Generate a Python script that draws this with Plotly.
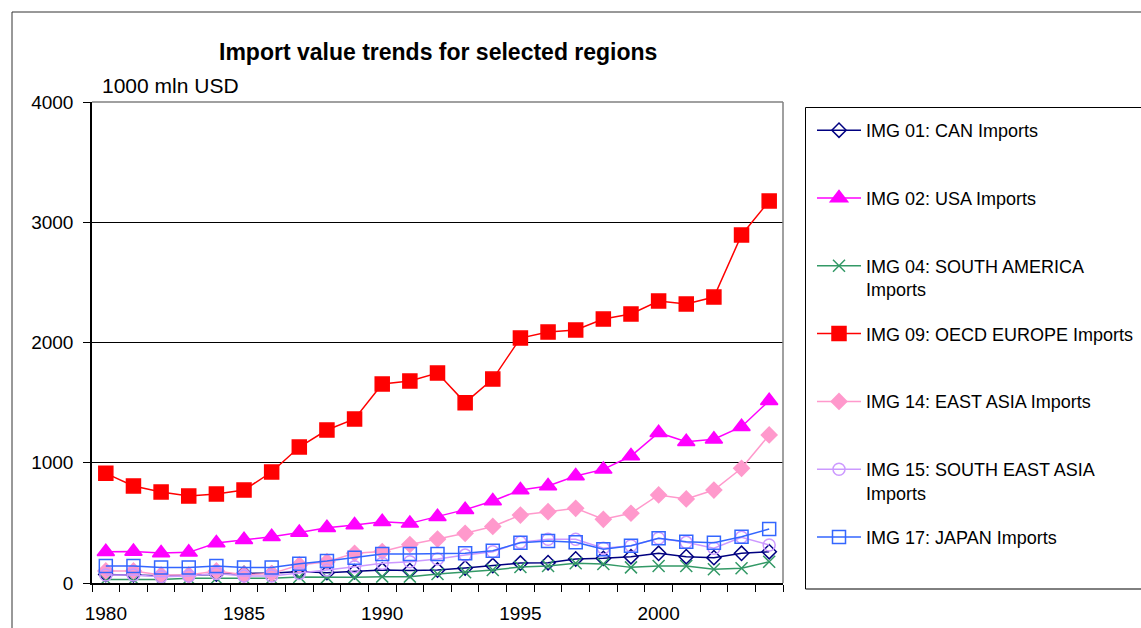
import plotly.graph_objects as go

years = list(range(1980, 2005))

can = [70, 68, 60, 65, 75, 80, 82, 95, 86, 94, 108, 103, 108, 125, 145, 166, 169, 200, 205, 219, 247, 219, 211, 247, 260]
usa = [260, 262, 250, 255, 332, 360, 385, 420, 460, 482, 510, 496, 551, 610, 682, 773, 807, 890, 945, 1056, 1250, 1175, 1195, 1300, 1516]
south_america = [30, 30, 30, 39, 39, 39, 39, 50, 47, 47, 53, 53, 75, 90, 108, 133, 141, 164, 158, 130, 141, 141, 114, 122, 177]
oecd_europe = [912, 807, 757, 723, 740, 773, 923, 1131, 1272, 1364, 1655, 1680, 1746, 1500, 1696, 2037, 2087, 2104, 2195, 2237, 2345, 2320, 2378, 2894, 3177]
east_asia = [100, 100, 67, 67, 100, 69, 78, 150, 177, 247, 262, 320, 365, 413, 470, 565, 593, 621, 530, 580, 732, 699, 773, 954, 1231]
se_asia = [67, 67, 53, 58, 80, 58, 58, 80, 108, 136, 164, 177, 200, 232, 260, 338, 363, 363, 290, 310, 372, 338, 289, 380, 316]
japan = [141, 141, 128, 128, 141, 128, 128, 160, 183, 211, 241, 241, 241, 247, 269, 335, 349, 338, 280, 310, 372, 344, 335, 385, 449]

series = [
    ("IMG 01: CAN Imports<br> ", can, "#000080", "diamond-open", 11),
    ("IMG 02: USA Imports<br> ", usa, "#FF00FF", "triangle-up", 15),
    ("IMG 04: SOUTH AMERICA<br>Imports", south_america, "#339966", "x-thin-open", 12),
    ("IMG 09: OECD EUROPE Imports<br> ", oecd_europe, "#FF0000", "square", 14),
    ("IMG 14: EAST ASIA Imports<br> ", east_asia, "#FF99CC", "diamond", 12),
    ("IMG 15: SOUTH EAST ASIA<br>Imports", se_asia, "#CC99FF", "circle-open", 12),
    ("IMG 17: JAPAN Imports<br> ", japan, "#3366FF", "square-open", 13),
]

FONT = "Liberation Sans, Arial, sans-serif"

fig = go.Figure()
for i, (name, vals, color, sym, size) in enumerate(series):
    fig.add_trace(go.Scatter(
        x=years, y=vals, name=name, mode="lines+markers",
        legendgroup=f"g{i}",
        line=dict(color=color, width=1.5),
        marker=dict(symbol=sym, size=size, color=color,
                    line=dict(color=color, width=1.5)),
    ))

L, R, T, B = 92, 358, 102, 45
W, H = 1141, 628
pw, ph = W - L - R, H - T - B


def px(x):
    return (x - L) / pw


def py(y):
    return (H - B - y) / ph


shapes = [
    # outer chart border
    dict(type="rect", xref="paper", yref="paper", x0=px(12), x1=px(1200), y0=py(12), y1=py(700),
         line=dict(color="#333333", width=1), layer="below"),
    # legend box
    dict(type="rect", xref="paper", yref="paper", x0=px(805.5), x1=px(1200), y0=py(107.5), y1=py(589),
         line=dict(color="#000000", width=1), fillcolor="white", layer="below"),
    # plot area top / right border (gray)
    dict(type="line", xref="paper", yref="paper", x0=0, x1=1, y0=1, y1=1,
         line=dict(color="#808080", width=1.5)),
    dict(type="line", xref="paper", yref="paper", x0=1, x1=1, y0=0, y1=1,
         line=dict(color="#808080", width=1.5)),
]

annotations = [
    dict(text="<b>Import value trends for selected regions</b>", xref="paper", yref="paper",
         x=px(438), y=py(52), xanchor="center", yanchor="middle", showarrow=False,
         font=dict(family=FONT, size=23, color="black")),
    dict(text="1000 mln USD", xref="paper", yref="paper",
         x=px(100), y=py(85), xanchor="left", yanchor="middle", showarrow=False,
         font=dict(family=FONT, size=21, color="black")),
]

fig.update_layout(
    width=W, height=H,
    margin=dict(l=L, r=R, t=T, b=B, autoexpand=False),
    paper_bgcolor="white", plot_bgcolor="white",
    font=dict(family=FONT, color="black"),
    showlegend=True,
    legend=dict(
        x=px(812), y=py(112), xanchor="left", yanchor="top",
        font=dict(family=FONT, size=18, color="black"),
        bgcolor="rgba(0,0,0,0)", borderwidth=0, itemwidth=44,
        tracegroupgap=18, valign="top", itemclick=False, itemdoubleclick=False,
    ),
    shapes=shapes,
    annotations=annotations,
    xaxis=dict(
        range=[1979.5, 2004.5], tickvals=[1980, 1985, 1990, 1995, 2000],
        ticks="", showgrid=False, zeroline=False,
        showline=True, linecolor="black", linewidth=1.5,
        tickfont=dict(family=FONT, size=19, color="black"),
        ticklabelstandoff=12,
        minor=dict(ticks="outside", ticklen=7, tickcolor="black", tickwidth=1,
                   tick0=1979.5, dtick=1, showgrid=False),
    ),
    yaxis=dict(
        range=[0, 4000], dtick=1000, tickformat="d",
        ticks="outside", ticklen=7, tickcolor="black", tickwidth=1,
        showgrid=True, gridcolor="black", gridwidth=1, zeroline=False,
        showline=True, linecolor="black", linewidth=1.5,
        tickfont=dict(family=FONT, size=19, color="black"),
        ticklabelstandoff=6,
    ),
)

fig.write_html(
    "out.html",
    config={"displayModeBar": False},
    post_script="document.body.style.margin='0';document.body.style.overflow='hidden';",
)
